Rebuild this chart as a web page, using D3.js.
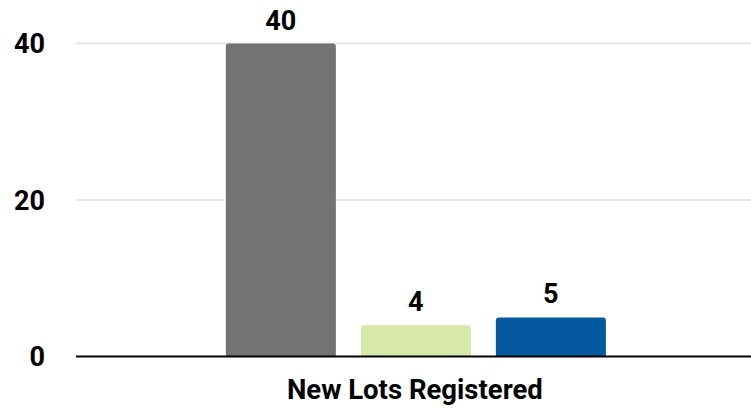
<!DOCTYPE html>
<html>
<head>
<meta charset="utf-8">
<script src="https://cdn.jsdelivr.net/npm/d3@7"></script>
<style>
html,body{margin:0;padding:0;background:#fff;}
svg{display:block;font-family:Roboto,"Noto Sans",sans-serif;}
</style>
</head>
<body>
<svg id="chart" width="751" height="409"></svg>
<script>
const category = "New Lots Registered";
const seriesNames = ["Series A", "Series B", "Series C"];
const seriesValues = [40, 4, 5];
const seriesColors = ["#737373", "#d8e8a8", "#0559a0"];
const yTicks = [0, 20, 40];

const svg = d3.select("#chart");
const plotLeft = 76, plotRight = 751;
const y = d3.scaleLinear().domain([0, 40]).range([356.5, 43.5]);

const x0 = d3.scaleBand().domain([category]).range([plotLeft, plotRight])
  .paddingInner(0).paddingOuter(0.388).align(0.508);
const x1 = d3.scaleBand().domain(seriesNames).range([0, x0.bandwidth()])
  .paddingInner(0.185).paddingOuter(0);

// gridlines
svg.append("g").selectAll("line").data(yTicks.filter(d => d !== 0)).join("line")
  .attr("x1", plotLeft).attr("x2", plotRight)
  .attr("y1", d => y(d)).attr("y2", d => y(d))
  .attr("stroke", "#e0e0e0").attr("stroke-width", 1.5);

// y tick labels
svg.append("g").selectAll("text").data(yTicks).join("text")
  .attr("x", 45).attr("y", d => y(d))
  .attr("dy", "0.36em")
  .attr("text-anchor", "end")
  .attr("font-size", 27).attr("font-weight", 700).attr("fill", "#000")
  .text(d => d);

const r = 3;
function topRounded(x, yTop, w, yBot) {
  const h = yBot - yTop;
  const rr = Math.min(r, h / 2, w / 2);
  return `M${x},${yBot}V${yTop + rr}Q${x},${yTop} ${x + rr},${yTop}H${x + w - rr}Q${x + w},${yTop} ${x + w},${yTop + rr}V${yBot}Z`;
}

const g = svg.append("g").attr("transform", `translate(${x0(category)},0)`);
g.selectAll("path").data(seriesValues).join("path")
  .attr("d", (d, i) => topRounded(x1(seriesNames[i]), y(d), x1.bandwidth(), y(0)))
  .attr("fill", (d, i) => seriesColors[i]);

g.selectAll("text").data(seriesValues).join("text")
  .attr("x", (d, i) => x1(seriesNames[i]) + x1.bandwidth() / 2)
  .attr("y", d => y(d) - 14)
  .attr("text-anchor", "middle")
  .attr("font-size", 27).attr("font-weight", 700).attr("fill", "#000")
  .text(d => d);

// baseline
svg.append("line").attr("x1", plotLeft).attr("x2", plotRight)
  .attr("y1", y(0)).attr("y2", y(0)).attr("stroke", "#000").attr("stroke-width", 2);

// category label
svg.append("text")
  .attr("x", x0(category) + x0.bandwidth() / 2 - 1).attr("y", 399)
  .attr("text-anchor", "middle")
  .attr("font-size", 27.5).attr("font-weight", 700).attr("fill", "#000")
  .text(category);
</script>
</body>
</html>
